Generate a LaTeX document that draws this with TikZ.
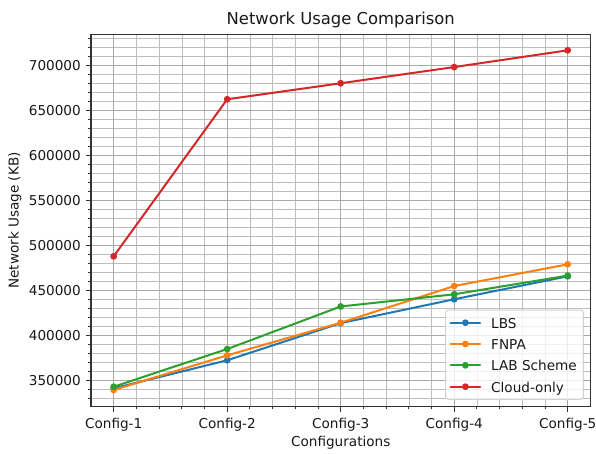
\documentclass[tikz,border=0pt]{standalone}
\usepackage{fontspec}
\setmainfont{DejaVu Sans}
\definecolor{tabblue}{HTML}{1F77B4}
\definecolor{taborange}{HTML}{FF7F0E}
\definecolor{tabgreen}{HTML}{2CA02C}
\definecolor{tabred}{HTML}{D62728}
\definecolor{gridc}{HTML}{BDBDBD}
\definecolor{gridmc}{HTML}{A8A8A8}
\definecolor{spinec}{HTML}{333333}
\newcommand\datapt[3]{\coordinate (#1) at ({113.7+113.5*(#2-1)},{380.7-(#3-350)*0.9});}
\begin{document}
\begin{tikzpicture}[x=1pt,y=-1pt,
  gridminor/.style={draw=gridc, line width=0.6pt},
  gridmajor/.style={draw=gridmc, line width=0.7pt},
  spine/.style={draw=spinec, line width=1.1pt, line cap=rect},
  tickmark/.style={draw=spinec, line width=1pt},
  ticklab/.style={font=\fontsize{13.6}{16}\selectfont, text=black!90, inner sep=0pt},
  axlab/.style={font=\fontsize{13.6}{16}\selectfont, text=black!90, inner sep=0pt},
  titlelab/.style={font=\fontsize{16.4}{19}\selectfont, text=black!90, inner sep=0pt},
  series/.style={line width=2pt, line join=round, line cap=round},
  legbox/.style={draw=black!18, fill=white, fill opacity=0.8, line width=1pt, rounded corners=2.7pt},
  legtext/.style={font=\fontsize{13.6}{16}\selectfont, text=black!90, inner sep=0pt, anchor=base west}
]
\useasboundingbox (0,0) rectangle (596,453);
\fill[white] (0,0) rectangle (596,453);
\def\xl{91}\def\xr{590.5}\def\yt{34.3}\def\yb{406.7}
% minor grid
\foreach \k in {1,...,21} \draw[gridminor] ({91+22.7*\k},\yt) -- ({91+22.7*\k},\yb);
\foreach \v in {330,340,...,730} \draw[gridminor] (\xl,{380.7-(\v-350)*0.9}) -- (\xr,{380.7-(\v-350)*0.9});
% major grid
\foreach \i in {1,...,5} \draw[gridmajor] ({113.7+113.5*(\i-1)},\yt) -- ({113.7+113.5*(\i-1)},\yb);
\foreach \v in {350,400,...,700} \draw[gridmajor] (\xl,{380.7-(\v-350)*0.9}) -- (\xr,{380.7-(\v-350)*0.9});
% ticks
\foreach \v in {330,340,...,730} \draw[tickmark] (\xl,{380.7-(\v-350)*0.9}) -- ({\xl-2.7},{380.7-(\v-350)*0.9});
\foreach \v in {350,400,...,700} {
  \draw[tickmark] (\xl,{380.7-(\v-350)*0.9}) -- ({\xl-4.8},{380.7-(\v-350)*0.9});
  \node[ticklab, anchor=base east] (yt\v) at (81,{380.7-(\v-350)*0.9+4.9}) {\v000};
}
\foreach \k in {1,...,21} \draw[tickmark] ({91+22.7*\k},\yb) -- ({91+22.7*\k},{\yb+2.7});
\foreach \i in {1,...,5} {
  \draw[tickmark] ({113.7+113.5*(\i-1)},\yb) -- ({113.7+113.5*(\i-1)},{\yb+4.8});
  \node[ticklab, anchor=base] (xt\i) at ({113.7+113.5*(\i-1)},428.3) {Config-\i};
}
% data
\datapt{b1}{1}{341.5}\datapt{b2}{2}{372.7}\datapt{b3}{3}{414}\datapt{b4}{4}{440.5}\datapt{b5}{5}{466}
\datapt{o1}{1}{339.7}\datapt{o2}{2}{378.2}\datapt{o3}{3}{414.4}\datapt{o4}{4}{455.2}\datapt{o5}{5}{479.3}
\datapt{g1}{1}{343.3}\datapt{g2}{2}{385.2}\datapt{g3}{3}{432.5}\datapt{g4}{4}{446}\datapt{g5}{5}{466.8}
\datapt{r1}{1}{488.2}\datapt{r2}{2}{662.7}\datapt{r3}{3}{680.5}\datapt{r4}{4}{698.5}\datapt{r5}{5}{717.1}
\draw[series, tabblue] (b1) -- (b2) -- (b3) -- (b4) -- (b5);
\foreach \p in {b1,b2,b3,b4,b5} \fill[tabblue] (\p) circle (3.4);
\draw[series, taborange] (o1) -- (o2) -- (o3) -- (o4) -- (o5);
\foreach \p in {o1,o2,o3,o4,o5} \fill[taborange] (\p) circle (3.4);
\draw[series, tabgreen] (g1) -- (g2) -- (g3) -- (g4) -- (g5);
\foreach \p in {g1,g2,g3,g4,g5} \fill[tabgreen] (\p) circle (3.4);
\draw[series, tabred] (r1) -- (r2) -- (r3) -- (r4) -- (r5);
\foreach \p in {r1,r2,r3,r4,r5} \fill[tabred] (\p) circle (3.4);
% spines
\draw[spine] (\xl,\yt) rectangle (\xr,\yb);
% labels
\node[titlelab, anchor=base] (title) at ({(\xl+\xr)/2},24) {Network Usage Comparison};
\node[axlab, anchor=base] (xlab) at ({(\xl+\xr)/2},446.5) {Configurations};
\node[axlab, anchor=base, rotate=90] (ylab) at (18.5,{(\yt+\yb)/2}) {Network Usage (KB)};
% legend
\draw[legbox] (445.7,310) rectangle (583.3,399.3);
\foreach \c/\t/\y [count=\n] in {tabblue/LBS/322.7, taborange/FNPA/344, tabgreen/LAB Scheme/365.3, tabred/Cloud-only/386.7} {
  \coordinate (la\n) at (450.7,\y);
  \coordinate (lb\n) at (480,\y);
  \coordinate (lm\n) at (465.4,\y);
  \draw[series, \c] (la\n) -- (lb\n);
  \fill[\c] (lm\n) circle (3.4);
  \node[legtext] (lt\n) at (491,{\y+5.5}) {\t};
}
\end{tikzpicture}
\end{document}
